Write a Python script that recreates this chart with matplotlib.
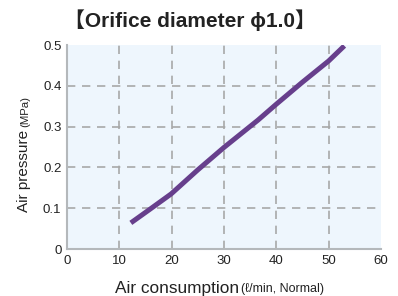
import matplotlib
matplotlib.use("Agg")
import matplotlib.pyplot as plt

# curve
air_flow = [12.2, 15.8, 19.9, 25.0, 30.0, 36.5, 40.0, 44.9, 50.0, 53.0]
air_pressure = [0.064, 0.097, 0.135, 0.194, 0.249, 0.316, 0.355, 0.408, 0.461, 0.498]

x_ticks = [0, 10, 20, 30, 40, 50, 60]
y_ticks = [0, 0.1, 0.2, 0.3, 0.4, 0.5]
y_tick_labels = ["0", "0.1", "0.2", "0.3", "0.4", "0.5"]

fam = ["Liberation Sans", "DejaVu Sans", "Noto Sans CJK JP"]
plt.rcParams["font.family"] = fam

fig = plt.figure(figsize=(3.98, 2.96), dpi=100)
ax = fig.add_axes([67 / 398, 1 - 249 / 296, 314 / 398, 204 / 296])
ax.set_facecolor("#eef6fd")

ax.plot(air_flow, air_pressure, color="#673f8c", lw=3.6, solid_capstyle="butt",
        solid_joinstyle="round", zorder=3)

ax.set_xlim(0, 60)
ax.set_ylim(0, 0.5)
ax.set_xticks(x_ticks)
ax.set_yticks(y_ticks)
ax.set_yticklabels(y_tick_labels)
ax.tick_params(length=0, labelsize=9.5, colors="#222222", pad=4)

for v in x_ticks[1:-1]:
    ax.axvline(v, color="#a8a8a8", lw=1.2, ls=(0, (5, 4)), zorder=1)
for v in y_ticks[1:-1]:
    ax.axhline(v, color="#a8a8a8", lw=1.2, ls=(0, (5, 4)), zorder=1)

for s in ["top", "right"]:
    ax.spines[s].set_visible(False)
for s in ["left", "bottom"]:
    ax.spines[s].set_color("#b4b8bb")
    ax.spines[s].set_linewidth(1.5)

fig.text(64 / 398, 1 - 20 / 296, "\u3010Orifice diameter \u03d51.0\u3011", fontsize=15,
         fontweight="bold", color="#222222", va="center", ha="left")

# x label in two sizes
fig.text(239 / 398, 1 - 288 / 296, "Air consumption", fontsize=12.4, color="#222222",
         ha="right", va="center")
fig.text(241 / 398, 1 - 289 / 296, "(\u2113/min, Normal)", fontsize=9, color="#222222",
         ha="left", va="center")

# y label in two sizes
fig.text(24 / 398, 1 - 212 / 296, "Air pressure", fontsize=11, color="#222222",
         ha="center", va="bottom", rotation=90)
fig.text(25 / 398, 1 - 127 / 296, "(MPa)", fontsize=8.2, color="#222222",
         ha="center", va="bottom", rotation=90)

fig.savefig("out.png", dpi=100)
